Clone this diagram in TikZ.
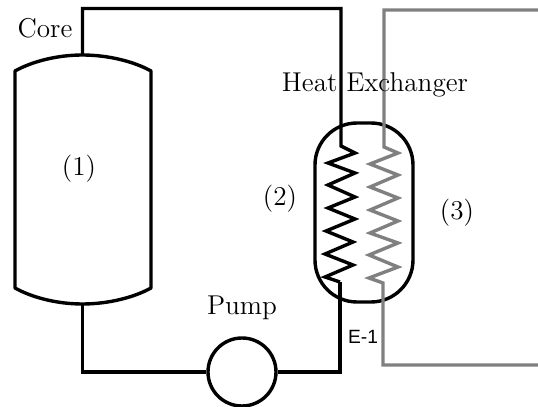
\documentclass[tikz,border=0pt]{standalone}
\usepackage{fontspec}
\newfontfamily\arialish{Liberation Sans}
\usetikzlibrary{calc}
\tikzset{
  px/.style={x=0.5pt,y=-0.5pt},
  lbl/.style={inner sep=0pt,font=\fontsize{13.6}{16}\selectfont},
  pipe/.style={draw=black,line width=1.7pt,line join=miter},
  thinpipe/.style={draw=black,line width=1.55pt,line join=miter},
  coldpipe/.style={draw=black!50,line width=1.7pt,line join=miter},
  hxbox/.style={draw=black,line width=1.7pt,rounded corners=21pt,minimum width=49pt,minimum height=89.5pt,inner sep=0pt},
  pumpc/.style={draw=black,line width=1.7pt,circle,minimum size=34pt,inner sep=0pt}
}
\begin{document}
\begin{tikzpicture}[px]
\useasboundingbox (0,0) rectangle (538,407);
% vessel
\coordinate (vtop) at (82.5,55);
\coordinate (vbot) at (82.5,304);
\draw[pipe,line join=round] (15,288) -- (15,71) .. controls (33,61) and (58,55) .. (vtop)
  .. controls (107,55) and (133,61) .. (151,71) -- (151,288)
  .. controls (133,298) and (107,304) .. (vbot) .. controls (58,304) and (33,298) .. (15,288) -- cycle;
% exchanger and pump
\node[hxbox] (hx) at (364,212.5) {};
\node[pumpc] (pump) at (242,372) {};
% hot loop
\coordinate (c1) at (82.5,8.5);
\coordinate (c2) at (341,8.5);
\coordinate (h0) at (341,146);
\coordinate (h1) at (340,282);
\coordinate (c3) at (340,372);
\coordinate (c4) at (82.5,372);
\draw[pipe] (vtop) -- (c1) -- (c2) -- (h0)
  -- (355,153) -- (328,163) -- (355,173) -- (328,185) -- (355,197) -- (328,208) -- (355,219) -- (326,231)
  -- (353,242) -- (325,254) -- (353,265) -- (325,277) -- (h1);
\draw[thinpipe] (h1) -- (c3) -- (pump);
\draw[thinpipe] (pump) -- (c4) -- (vbot);
% cold loop
\coordinate (g1) at (538,10);
\coordinate (g2) at (384,10);
\coordinate (g3) at (384,147);
\coordinate (g4) at (383,283);
\coordinate (g5) at (383,365);
\coordinate (g6) at (538,365);
\draw[coldpipe] (g1) -- (g2) -- (g3)
  -- (398,153) -- (370,164) -- (398,175) -- (370,187) -- (398,198) -- (370,210) -- (398,221) -- (370,233)
  -- (398,243) -- (369,255) -- (398,267) -- (369,278) -- (g4) -- (g5) -- (g6);
% labels
\node[lbl] (core) at (45,28) {Core};
\node[lbl] (l1) at (79,169) {(1)};
\node[lbl] (l2) at (280,199) {(2)};
\node[lbl] (l3) at (457,213) {(3)};
\node[lbl] (hxl) at (375,85) {Heat Exchanger};
\node[lbl] (pl) at (242,308) {Pump};
\node[inner sep=0pt,font=\fontsize{9.6}{11}\selectfont\arialish] (e1) at (363,337) {E-1};
\end{tikzpicture}
\end{document}
